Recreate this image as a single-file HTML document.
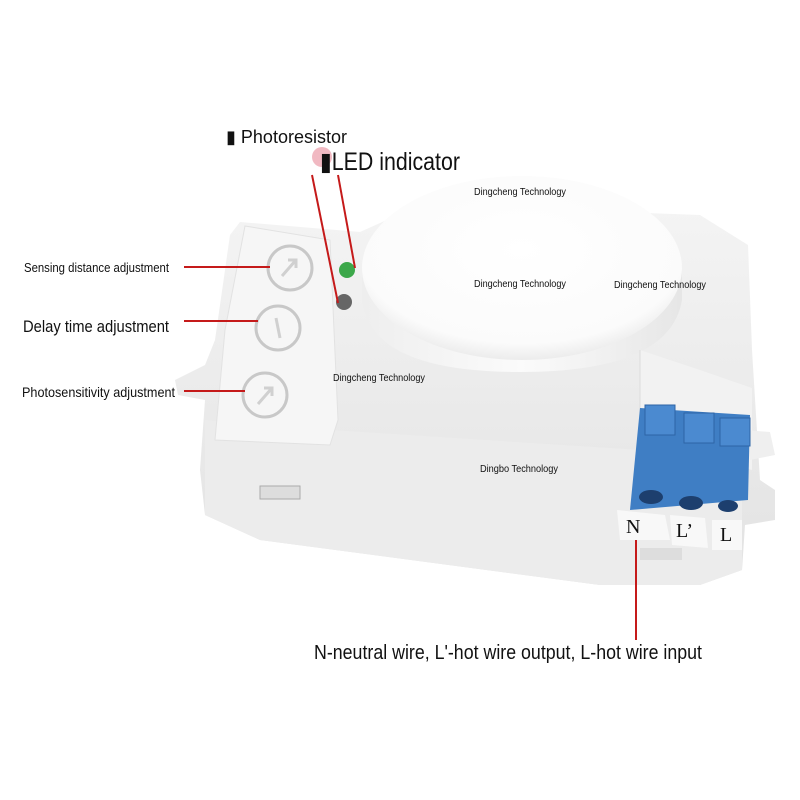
<!DOCTYPE html>
<html><head><meta charset="utf-8"><style>
html,body{margin:0;padding:0;background:#fff;}
svg{display:block;}
text{font-family:"Liberation Sans",sans-serif;fill:#111;}
</style></head><body>
<svg width="800" height="800" viewBox="0 0 800 800" xmlns="http://www.w3.org/2000/svg">
<defs>
<linearGradient id="body" x1="0" y1="0" x2="0" y2="1"><stop offset="0" stop-color="#f4f4f4"/><stop offset="1" stop-color="#e2e2e2"/></linearGradient>
<radialGradient id="dome" cx="0.5" cy="0.4" r="0.6"><stop offset="0" stop-color="#ffffff"/><stop offset="0.85" stop-color="#fbfbfb"/><stop offset="1" stop-color="#ececec"/></radialGradient>
<linearGradient id="cyl" x1="0" y1="0" x2="1" y2="0"><stop offset="0" stop-color="#eeeeee"/><stop offset="0.5" stop-color="#fbfbfb"/><stop offset="1" stop-color="#e6e6e6"/></linearGradient>
</defs>
<path d="M240,222 L360,232 L420,205 L700,215 L748,245 L752,350 L760,480 L775,490 L775,520 L745,525 L742,570 L700,585 L600,585 L260,540 L205,515 L200,470 L205,400 L178,395 L175,380 L205,365 L215,340 L230,235 Z" fill="url(#body)"/>
<path d="M205,420 L330,430 L640,450 L742,470 L742,570 L700,585 L600,585 L260,540 L205,515 Z" fill="#ececec"/>
<path d="M245,226 L330,240 L338,420 L330,445 L215,440 L225,330 Z" fill="#f6f6f6" stroke="#e2e2e2"/>
<g fill="none" stroke="#c8c8c8" stroke-width="3">
<circle cx="290" cy="268" r="22"/><circle cx="278" cy="328" r="22"/><circle cx="265" cy="395" r="22"/>
</g>
<g stroke="#d0d0d0" stroke-width="3" fill="none">
<path d="M282,276 L296,260 M288,260 L296,260 L296,268"/>
<path d="M276,318 L280,338"/>
<path d="M258,404 L272,388 M264,388 L272,388 L272,396"/>
</g>
<path d="M362,265 L362,300 Q370,372 520,372 Q670,372 682,300 L682,265 Z" fill="url(#cyl)"/>
<ellipse cx="522" cy="268" rx="160" ry="92" fill="url(#dome)"/>
<path d="M640,350 L700,370 L752,388 L752,470 L640,440 Z" fill="#f2f2f2"/>
<path d="M640,350 L640,440" stroke="#dcdcdc"/>
<path d="M745,430 L770,432 L775,455 L750,460 Z" fill="#efefef"/>
<path d="M640,408 L750,415 L748,500 L630,510 Z" fill="#3f7ec4"/>
<rect x="645" y="405" width="30" height="30" fill="#4b8ad0" stroke="#2e64a6"/>
<rect x="684" y="413" width="30" height="30" fill="#4b8ad0" stroke="#2e64a6"/>
<rect x="720" y="418" width="30" height="28" fill="#4b8ad0" stroke="#2e64a6"/>
<g fill="#1d3f6e"><ellipse cx="651" cy="497" rx="12" ry="7"/><ellipse cx="691" cy="503" rx="12" ry="7"/><ellipse cx="728" cy="506" rx="10" ry="6"/></g>
<path d="M617,510 L665,515 L670,540 L620,540 Z" fill="#f8f8f8"/>
<path d="M670,515 L705,518 L708,548 L672,545 Z" fill="#f8f8f8"/>
<path d="M712,520 L742,520 L742,550 L712,550 Z" fill="#f8f8f8"/>
<text x="626" y="533" style="font-family:'Liberation Serif',serif" font-size="20" fill="#333">N</text>
<text x="676" y="537" style="font-family:'Liberation Serif',serif" font-size="20" fill="#333">L’</text>
<text x="720" y="541" style="font-family:'Liberation Serif',serif" font-size="20" fill="#333">L</text>
<rect x="260" y="486" width="40" height="13" fill="#ddd" stroke="#aaa"/>
<rect x="640" y="548" width="42" height="12" fill="#ddd"/>
<circle cx="347" cy="270" r="8" fill="#3ca84a"/>
<circle cx="344" cy="302" r="8" fill="#666"/>
<circle cx="322" cy="157" r="10" fill="#e88a9a" opacity="0.6"/>
<g stroke="#c51a1a" stroke-width="2" fill="none">
<line x1="184" y1="267" x2="270" y2="267"/>
<line x1="184" y1="321" x2="258" y2="321"/>
<line x1="184" y1="391" x2="245" y2="391"/>
<line x1="312" y1="175" x2="338" y2="303"/>
<line x1="338" y1="175" x2="355" y2="268"/>
<line x1="636" y1="540" x2="636" y2="640"/>
</g>
<text x="24" y="272" font-size="13" textLength="145" lengthAdjust="spacingAndGlyphs">Sensing distance adjustment</text>
<text x="23" y="332" font-size="17" textLength="146" lengthAdjust="spacingAndGlyphs">Delay time adjustment</text>
<text x="22" y="397" font-size="14" textLength="153" lengthAdjust="spacingAndGlyphs">Photosensitivity adjustment</text>
<text x="226" y="143" font-size="18" textLength="121" lengthAdjust="spacingAndGlyphs">▮ Photoresistor</text>
<text x="320" y="170" font-size="25" textLength="140" lengthAdjust="spacingAndGlyphs">▮LED indicator</text>
<text x="314" y="659" font-size="20" textLength="388" lengthAdjust="spacingAndGlyphs">N-neutral wire, L'-hot wire output, L-hot wire input</text>
<g font-size="10">
<text x="474" y="195" textLength="92" lengthAdjust="spacingAndGlyphs">Dingcheng Technology</text>
<text x="474" y="287" textLength="92" lengthAdjust="spacingAndGlyphs">Dingcheng Technology</text>
<text x="614" y="288" textLength="92" lengthAdjust="spacingAndGlyphs">Dingcheng Technology</text>
<text x="333" y="381" textLength="92" lengthAdjust="spacingAndGlyphs">Dingcheng Technology</text>
<text x="480" y="472" textLength="78" lengthAdjust="spacingAndGlyphs">Dingbo Technology</text>
</g>
</svg>
</body></html>
